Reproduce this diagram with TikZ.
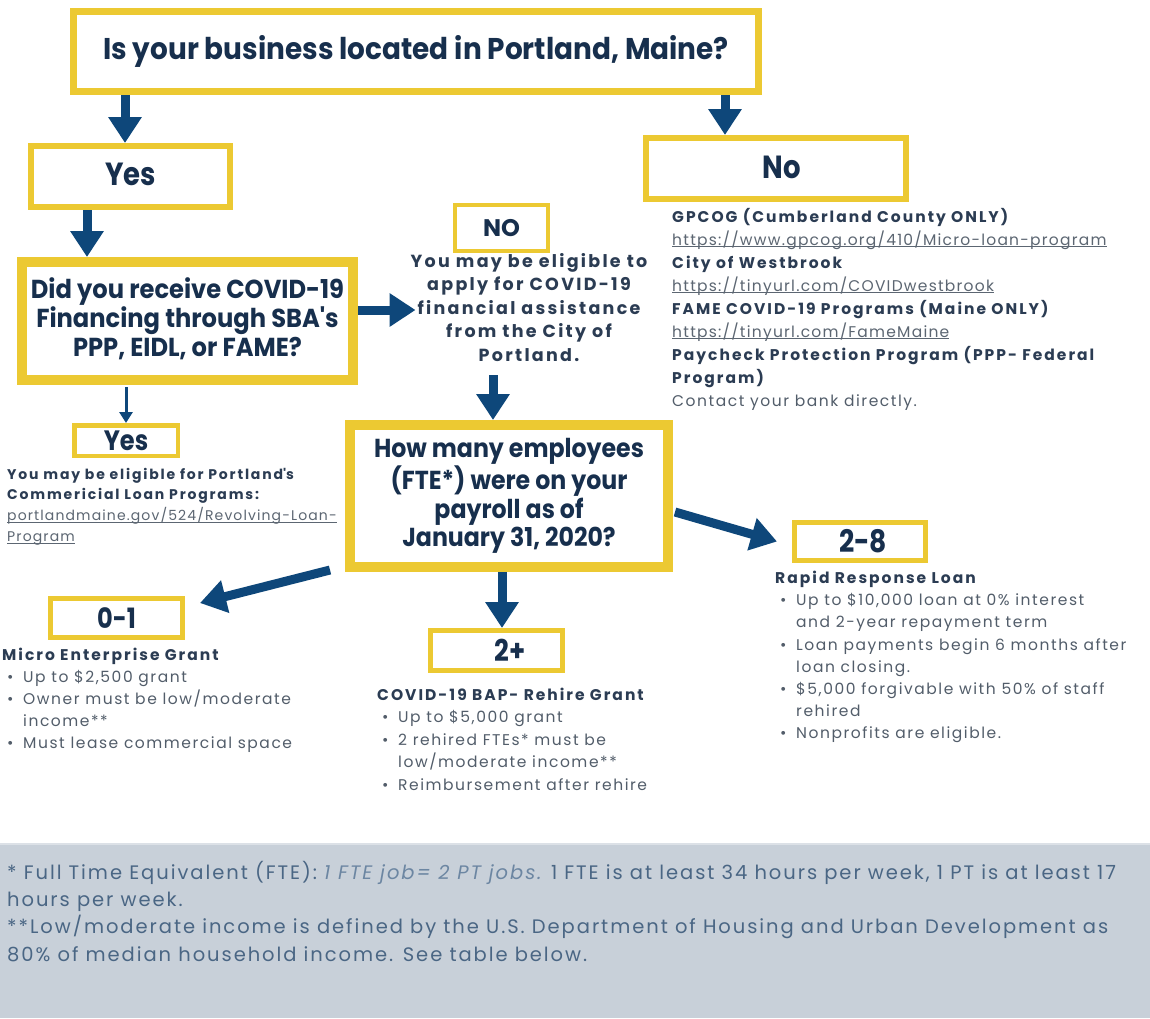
\documentclass[tikz,border=0pt]{standalone}
\usepackage{fontspec}
\usepackage{graphicx}
\setmainfont{Poppins}
\newfontfamily\trkr{Poppins}[LetterSpace=10]
\newfontfamily\trkl{Poppins}[LetterSpace=8]
\newfontfamily\trkb{Poppins}[LetterSpace=13]
\usetikzlibrary{arrows.meta}

\definecolor{gold}{HTML}{ECC932}
\definecolor{navyarrow}{HTML}{0E477A}
\definecolor{headtxt}{HTML}{172F4D}
\definecolor{boldtxt}{HTML}{2B3C53}
\definecolor{bodytxt}{HTML}{525D6A}
\definecolor{linktxt}{HTML}{5C6672}
\definecolor{notebg}{HTML}{C8D0D9}
\definecolor{noteline}{HTML}{DCE1E7}
\definecolor{notetxt}{HTML}{4A6684}
\definecolor{noteital}{HTML}{6C86A2}

% underlined web address
\newcommand\ulink[1]{\begingroup\setbox0\hbox{#1}\rlap{\rule[-2.2pt]{\wd0}{0.8pt}}\box0\endgroup}
% one-line heading, squeezed horizontally
\newcommand\hdone[3]{\scalebox{#1}[1]{\fontsize{#2}{#2}\selectfont\bfseries #3}}
% multi-line centred heading
\newcommand\hdmany[4]{\scalebox{#1}[1]{\fontsize{#2}{#3}\selectfont\bfseries\begin{tabular}{@{}c@{}}#4\end{tabular}}}
% block of lines whose baseline is that of its first line
\newcommand\lines[2]{\begin{tabular}[t]{@{}#1@{}}#2\end{tabular}}
% text pieces
\newcommand\bt[1]{{\color{boldtxt}\trkb\bfseries #1}}
\newcommand\rt[1]{{\color{bodytxt}#1}}
\newcommand\lk[1]{{\color{linktxt}\trkl\ulink{#1}}}
\newcommand\itm[1]{{\color{bodytxt}\hspace*{5pt}\makebox[16pt][l]{\textbullet}#1}}
\newcommand\cont[1]{{\color{bodytxt}\hspace*{21pt}#1}}

\tikzset{
  box/.style={draw=gold, fill=white, inner sep=0pt, text=headtxt},
  arr/.style={draw=navyarrow, line width=9pt, -{Triangle[width=32pt,length=26pt]}},
  thinarr/.style={draw=navyarrow, line width=3pt, -{Triangle[width=13pt,length=11pt]}},
  para/.style={inner sep=0pt, anchor=base west},
}

\begin{document}
\begin{tikzpicture}[x=1pt,y=-1pt]
\useasboundingbox (0,0) rectangle (1150,1018);
\fill[white] (0,0) rectangle (1150,1018);

% footnote band
\fill[notebg] (0,843) rectangle (1150,1018);
\draw[noteline, line width=2pt] (0,844) -- (1150,844);

% question and answer boxes
\node[box, line width=7pt, minimum width=685pt, minimum height=80pt] (q1) at (416,51.5)
  {\hdone{0.93}{30}{Is your business located in Portland, Maine?}};
\node[box, line width=6pt, minimum width=199pt, minimum height=61pt] (yesA) at (130.5,176.5)
  {\raisebox{4pt}{\hdone{0.86}{32}{Yes}}};
\node[box, line width=6pt, minimum width=260pt, minimum height=61pt] (noA) at (776,168.5)
  {\raisebox{3pt}{\hspace*{12pt}\hdone{0.86}{32}{No}}};
\node[box, line width=10pt, minimum width=331pt, minimum height=118pt] (q2) at (187.5,321)
  {\hdmany{0.93}{26}{28.5}{Did you receive COVID-19\\Financing through SBA\textquotesingle s\\PPP, EIDL, or FAME?}};
\node[box, line width=4pt, minimum width=93pt, minimum height=46pt] (noB) at (501.5,228)
  {\raisebox{-2pt}{\fontsize{24}{24}\selectfont\bfseries NO}};
\node[box, line width=4.5pt, minimum width=103.5pt, minimum height=30.5pt] (yesB) at (126,440.5)
  {\raisebox{-3pt}{\hdone{0.86}{28}{Yes}}};
\node[box, line width=10pt, minimum width=318pt, minimum height=142pt] (q3) at (509,496)
  {\hdmany{0.91}{26}{28}{How many employees\\(FTE*) were on your\\payroll as of\\January 31, 2020?}};
\node[box, line width=5pt, minimum width=132pt, minimum height=39pt] (r01) at (116.5,618)
  {\hdone{0.86}{28}{0-1}};
\node[box, line width=5pt, minimum width=132pt, minimum height=40pt] (r2p) at (496.5,650.5)
  {\hspace*{27pt}\hdone{0.86}{30}{2+}};
\node[box, line width=5pt, minimum width=131pt, minimum height=38pt] (r28) at (860,541.5)
  {\hspace*{6pt}\hdone{0.86}{31}{2-8}};

% city assistance note
\node[inner sep=0pt, anchor=base, text=boldtxt, font={\trkb\fontsize{17.5}{23.5}\selectfont\bfseries}] (elig) at (529,267)
  {\lines{c}{You may be eligible to\\apply for COVID-19\\financial assistance\\from the City of\\Portland.}};

% other programs outside Portland
\node[para, font={\trkr\fontsize{15.5}{23}\selectfont}] (others) at (672,222)
  {\lines{l}{%
   \bt{GPCOG (Cumberland County ONLY)}\\
   \lk{https://www.gpcog.org/410/Micro-loan-program}\\
   \bt{City of Westbrook}\\
   \lk{https://tinyurl.com/COVIDwestbrook}\\
   \bt{FAME COVID-19 Programs (Maine ONLY)}\\
   \lk{https://tinyurl.com/FameMaine}\\
   \bt{Paycheck Protection Program (PPP- Federal}\\
   \bt{Program)}\\
   \rt{Contact your bank directly.}}};

% commercial loan note
\node[para, font={\trkr\fontsize{14}{20.7}\selectfont}] (loans) at (7,479)
  {\lines{l}{%
   \bt{You may be eligible for Portland\textquotesingle s}\\
   \bt{Commericial Loan Programs:}\\
   \lk{portlandmaine.gov/524/Revolving-Loan-}\\
   \lk{Program}}};

% programme descriptions
\node[para, font={\trkr\fontsize{15.5}{22}\selectfont}] (micro) at (2,660.5)
  {\lines{l}{%
   \bt{Micro Enterprise Grant}\\
   \itm{Up to \$2,500 grant}\\
   \itm{Owner must be low/moderate}\\
   \cont{income**}\\
   \itm{Must lease commercial space}}};
\node[para, font={\trkr\fontsize{15.5}{22.4}\selectfont}] (rehire) at (377,700.5)
  {\lines{l}{%
   \bt{COVID-19 BAP- Rehire Grant}\\
   \itm{Up to \$5,000 grant}\\
   \itm{2 rehired FTEs* must be}\\
   \cont{low/moderate income**}\\
   \itm{Reimbursement after rehire}}};
\node[para, font={\trkr\fontsize{15.5}{22.2}\selectfont}] (rapid) at (775,583.5)
  {\lines{l}{%
   \bt{Rapid Response Loan}\\
   \itm{Up to \$10,000 loan at 0\% interest}\\
   \cont{and 2-year repayment term}\\
   \itm{Loan payments begin 6 months after}\\
   \cont{loan closing.}\\
   \itm{\$5,000 forgivable with 50\% of staff}\\
   \cont{rehired}\\
   \itm{Nonprofits are eligible.}}};

% footnotes
\node[para, text=notetxt, font={\trkr\fontsize{19.5}{27.2}\selectfont}] (notes) at (7,879.5)
  {\lines{l}{%
   * Full Time Equivalent (FTE): {\color{noteital}\itshape 1 FTE job= 2 PT jobs.} 1 FTE is at least 34 hours per week, 1 PT is at least 17\\
   hours per week.\\
   {}**Low/moderate income is defined by the U.S. Department of Housing and Urban Development as\\
   80\% of median household income. See table below.}};

% connectors
\draw[arr] ([xshift=-5.5pt]yesA.north |- q1.south) -- ([xshift=-5.5pt]yesA.north);
\draw[arr] ([xshift=-51pt]noA.north |- q1.south) -- ([xshift=-51pt]noA.north);
\draw[arr] ([xshift=70pt]q2.north west |- yesA.south) -- ([xshift=70pt]q2.north west);
\draw[arr] ([yshift=11pt]q2.east) -- ([xshift=5pt,yshift=11pt]q2.east -| elig.west);
\draw[thinarr] ([yshift=-2pt]yesB.north |- q2.south) -- (yesB.north);
\draw[arr] ([xshift=-16pt,yshift=-7pt]q3.north |- elig.south) -- ([xshift=-16pt]q3.north);
\draw[arr] ([xshift=-15pt,yshift=2pt]q3.south west) -- ([xshift=15pt,yshift=15pt]r01.east);
\draw[arr] ([xshift=-7pt]q3.south) -- ([xshift=-7pt]q3.south |- r2p.north);
\draw[arr] ([xshift=2pt,yshift=-16pt]q3.east) -- ([xshift=-15pt]r28.west);
\end{tikzpicture}
\end{document}
